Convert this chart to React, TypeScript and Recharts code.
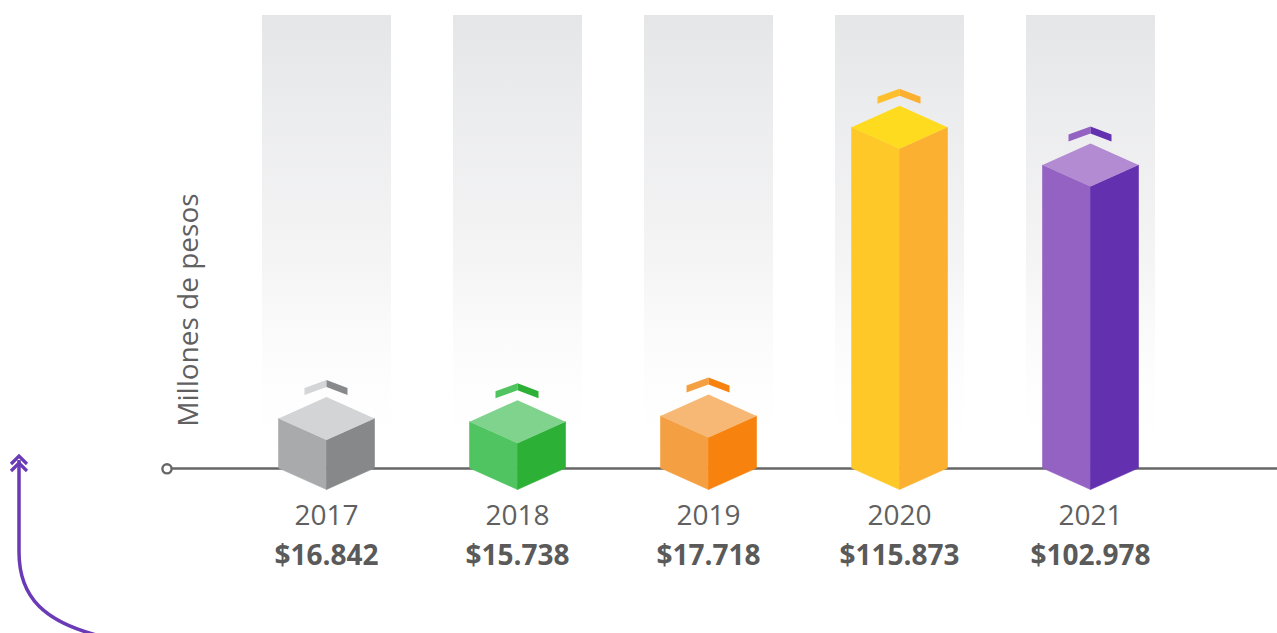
import React from 'react';
import { BarChart, Bar, XAxis, YAxis, Customized } from 'recharts';

const years = ['2017', '2018', '2019', '2020', '2021'];
const values = [16.842, 15.738, 17.718, 115.873, 102.978];
const valueLabels = ['$16.842', '$15.738', '$17.718', '$115.873', '$102.978'];
const topColors = ['#d3d4d6', '#7fd38c', '#f6b874', '#ffdb1f', '#b28bd3'];
const leftColors = ['#a9aaac', '#4fc461', '#f4a042', '#fec928', '#9462c2'];
const rightColors = ['#87888a', '#2cb035', '#f7820d', '#fbb031', '#6331b0'];
const chevLeftColors = ['#d4d5d7', '#4fc461', '#f4a042', '#fdbf2c', '#9462c2'];
const chevRightColors = ['#88898b', '#2cb035', '#f7820d', '#fbb031', '#6331b0'];

const data = years.map((year, i) => ({ year, value: values[i], idx: i }));

const CHART_W = 1277;
const CHART_H = 633;
const XAXIS_H = 165;
const AXIS_Y = CHART_H - XAXIS_H;
const FONT = "'Open Sans', sans-serif";

const CubeShape = (props: any) => {
  const { x, y, width, height, payload } = props;
  const i = payload.idx;
  const cx = x + width / 2;
  const hw = 48;
  const dh = 21.5;
  const base = y + height;
  const ty = y - dh;
  return (
    <g>
      <polygon
        points={`${cx - hw},${y} ${cx},${y + dh} ${cx},${base + dh} ${cx - hw},${base}`}
        fill={leftColors[i]}
        stroke={leftColors[i]}
        strokeWidth={0.6}
      />
      <polygon
        points={`${cx},${y + dh} ${cx + hw},${y} ${cx + hw},${base} ${cx},${base + dh}`}
        fill={rightColors[i]}
        stroke={rightColors[i]}
        strokeWidth={0.6}
      />
      <polygon
        points={`${cx},${ty} ${cx + hw},${y} ${cx},${y + dh} ${cx - hw},${y}`}
        fill={topColors[i]}
      />
      <polygon
        points={`${cx - 22},${ty - 9} ${cx},${ty - 17} ${cx},${ty - 10} ${cx - 22},${ty - 2}`}
        fill={chevLeftColors[i]}
      />
      <polygon
        points={`${cx},${ty - 17} ${cx + 21},${ty - 9} ${cx + 21},${ty - 2} ${cx},${ty - 10}`}
        fill={chevRightColors[i]}
      />
    </g>
  );
};

const YearTick = (props: any) => {
  const { x, y, payload, index } = props;
  return (
    <g>
      <text x={x} y={y + 57} textAnchor="middle" fontSize={28} fill="#606060" fontFamily={FONT}>
        {payload.value}
      </text>
      <text x={x} y={y + 97} textAnchor="middle" fontSize={28} fontWeight={700} fill="#5a5a5a" fontFamily={FONT}>
        {valueLabels[index]}
      </text>
    </g>
  );
};

const Decorations = () => (
  <g>
    <line x1={170} y1={AXIS_Y + 0.5} x2={CHART_W} y2={AXIS_Y + 0.5} stroke="#666666" strokeWidth={2.7} />
    <circle cx={167} cy={AXIS_Y + 0.8} r={4.6} fill="#ffffff" stroke="#666666" strokeWidth={2.4} />
    <text
      x={198}
      y={310}
      transform="rotate(-90 198 310)"
      textAnchor="middle"
      fontSize={28}
      fill="#606060"
      fontFamily={FONT}
    >
      Millones de pesos
    </text>
    <path
      d="M19,460 L19,552 C19,598 45,622 100,636"
      fill="none"
      stroke="#6a3bb5"
      strokeWidth={3.5}
    />
    <polyline points="11,464 19,456 27,464" fill="none" stroke="#6a3bb5" strokeWidth={3.2} />
    <polyline points="11,471 19,463 27,471" fill="none" stroke="#6a3bb5" strokeWidth={3.2} />
  </g>
);

export default function App() {
  return (
    <div style={{ position: 'absolute', left: 0, top: 0, width: CHART_W, height: CHART_H, background: '#ffffff' }}>
      <BarChart
        width={CHART_W}
        height={CHART_H}
        data={data}
        margin={{ top: 15, right: 91, bottom: 0, left: 231 }}
      >
        <defs>
          <linearGradient id="colGrad" x1="0" y1="0" x2="0" y2="1">
            <stop offset="0" stopColor="#e5e6e8" stopOpacity={1} />
            <stop offset="0.55" stopColor="#f2f2f3" stopOpacity={0.8} />
            <stop offset="1" stopColor="#ffffff" stopOpacity={0} />
          </linearGradient>
        </defs>
        <Customized component={Decorations} />
        <XAxis
          dataKey="year"
          height={XAXIS_H}
          axisLine={false}
          tickLine={false}
          tickSize={0}
          tickMargin={0}
          interval={0}
          tick={<YearTick />}
        />
        <YAxis hide domain={[0, 154]} />
        <Bar
          dataKey="value"
          barSize={129}
          background={{ fill: 'url(#colGrad)' }}
          shape={<CubeShape />}
          isAnimationActive={false}
        />
      </BarChart>
    </div>
  );
}
